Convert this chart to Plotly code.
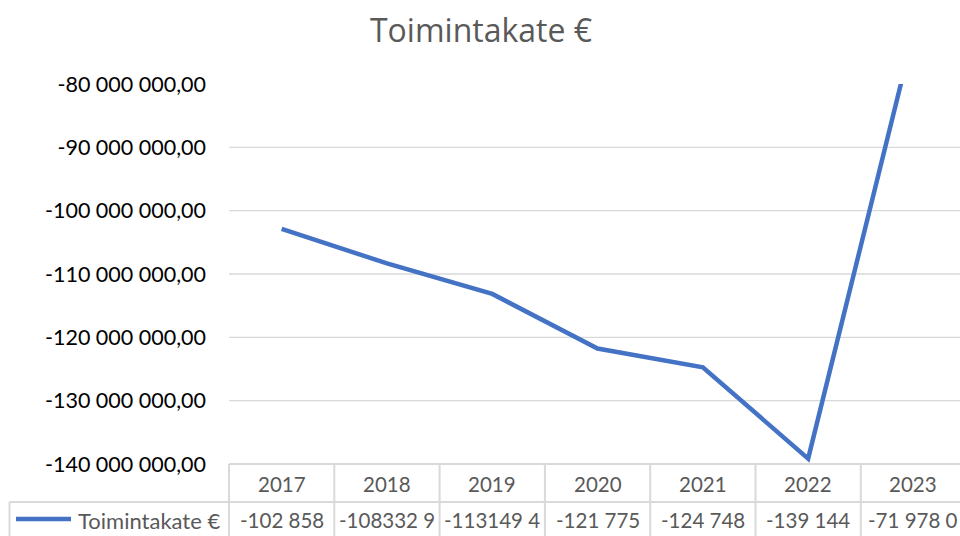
import plotly.graph_objects as go

years = ["2017", "2018", "2019", "2020", "2021", "2022", "2023"]
values = [-102858000, -108332900, -113149400, -121775000, -124748000, -139144000, -71978000]
table_texts = ["-102 858", "-108332 9", "-113149 4", "-121 775", "-124 748", "-139 144", "-71 978 0"]
series_name = "Toimintakate €"
tick_vals = [-140e6, -130e6, -120e6, -110e6, -100e6, -90e6, -80e6]
tick_text = ["-140 000 000,00", "-130 000 000,00", "-120 000 000,00", "-110 000 000,00",
             "-100 000 000,00", "-90 000 000,00", "-80 000 000,00"]

W, H = 960, 536
ML, MR, MT, MB = 229, 0, 84, 72
col_w = 105.3
plot_w = W - ML - MR
plot_h = H - MT - MB
x_idx = list(range(len(years)))
x_range = [-0.5, -0.5 + plot_w / col_w]

BLUE = "#4472C4"
GRID = "#d9d9d9"
TXT = "#595959"


def px_to_paper_x(px):
    return (px - ML) / plot_w


def py_to_paper_y(py):
    return (H - MB - py) / plot_h


fig = go.Figure()
fig.add_trace(go.Scatter(x=x_idx, y=values, mode="lines", name=series_name,
                         line=dict(color=BLUE, width=4.5), showlegend=False,
                         hoverinfo="skip"))

shapes = []
# gridlines (except top)
for v in tick_vals[1:-1]:
    shapes.append(dict(type="line", xref="paper", yref="y", x0=0, x1=1, y0=v, y1=v,
                       line=dict(color=GRID, width=1.3), layer="below"))

row_div = py_to_paper_y(502)
tbl_bottom = py_to_paper_y(540)
left_edge = px_to_paper_x(9.5)
# table top border
shapes.append(dict(type="line", xref="paper", yref="paper", x0=0, x1=1, y0=0, y1=0,
                   line=dict(color=GRID, width=2)))
# row divider
shapes.append(dict(type="line", xref="paper", yref="paper", x0=left_edge, x1=1, y0=row_div, y1=row_div,
                   line=dict(color=GRID, width=2)))
# left border of legend cell
shapes.append(dict(type="line", xref="paper", yref="paper", x0=left_edge, x1=left_edge,
                   y0=row_div, y1=tbl_bottom, line=dict(color=GRID, width=2)))
# vertical column borders
for k in range(len(years)):
    xb = px_to_paper_x(ML + k * col_w)
    shapes.append(dict(type="line", xref="paper", yref="paper", x0=xb, x1=xb, y0=0, y1=tbl_bottom,
                       line=dict(color=GRID, width=2)))
# legend key line
ly = py_to_paper_y(519)
shapes.append(dict(type="line", xref="paper", yref="paper", x0=px_to_paper_x(16), x1=px_to_paper_x(71),
                   y0=ly, y1=ly, line=dict(color=BLUE, width=4.5)))

annotations = []
hy = py_to_paper_y(484)
dy = py_to_paper_y(520)
for i, (yr, t) in enumerate(zip(years, table_texts)):
    annotations.append(dict(x=i, y=hy, xref="x", yref="paper", text=yr, showarrow=False,
                            xanchor="center", yanchor="middle",
                            font=dict(family="Lato", size=20.5, color=TXT)))
    annotations.append(dict(x=i, y=dy, xref="x", yref="paper", text=t, showarrow=False,
                            xanchor="center", yanchor="middle",
                            font=dict(family="Lato", size=20.5, color=TXT)))
annotations.append(dict(x=px_to_paper_x(222), y=dy, xref="paper", yref="paper", text=series_name,
                        showarrow=False, xanchor="right", yanchor="middle",
                        font=dict(family="Lato", size=22, color=TXT)))

fig.update_layout(
    width=W, height=H,
    margin=dict(l=ML, r=MR, t=MT, b=MB),
    paper_bgcolor="white", plot_bgcolor="white",
    title=dict(text="Toimintakate €", x=481 / W, xref="container", xanchor="center",
               y=1 - 31 / H, yref="container", yanchor="middle",
               font=dict(family="Open Sans", size=32, color=TXT)),
    xaxis=dict(range=x_range, showticklabels=False, showgrid=False, zeroline=False,
               showline=False, fixedrange=True),
    yaxis=dict(range=[-140e6, -80e6], tickvals=tick_vals, ticktext=tick_text,
               showgrid=False, zeroline=False, showline=False,
               ticks="", ticklabelstandoff=22,
               tickfont=dict(family="Lato", size=21.5, color="#000000")),
    shapes=shapes,
    annotations=annotations,
    showlegend=False,
)

fig.write_html("out.html", config={"displayModeBar": False},
               post_script="document.body.style.margin='0';document.body.style.overflow='hidden';")
